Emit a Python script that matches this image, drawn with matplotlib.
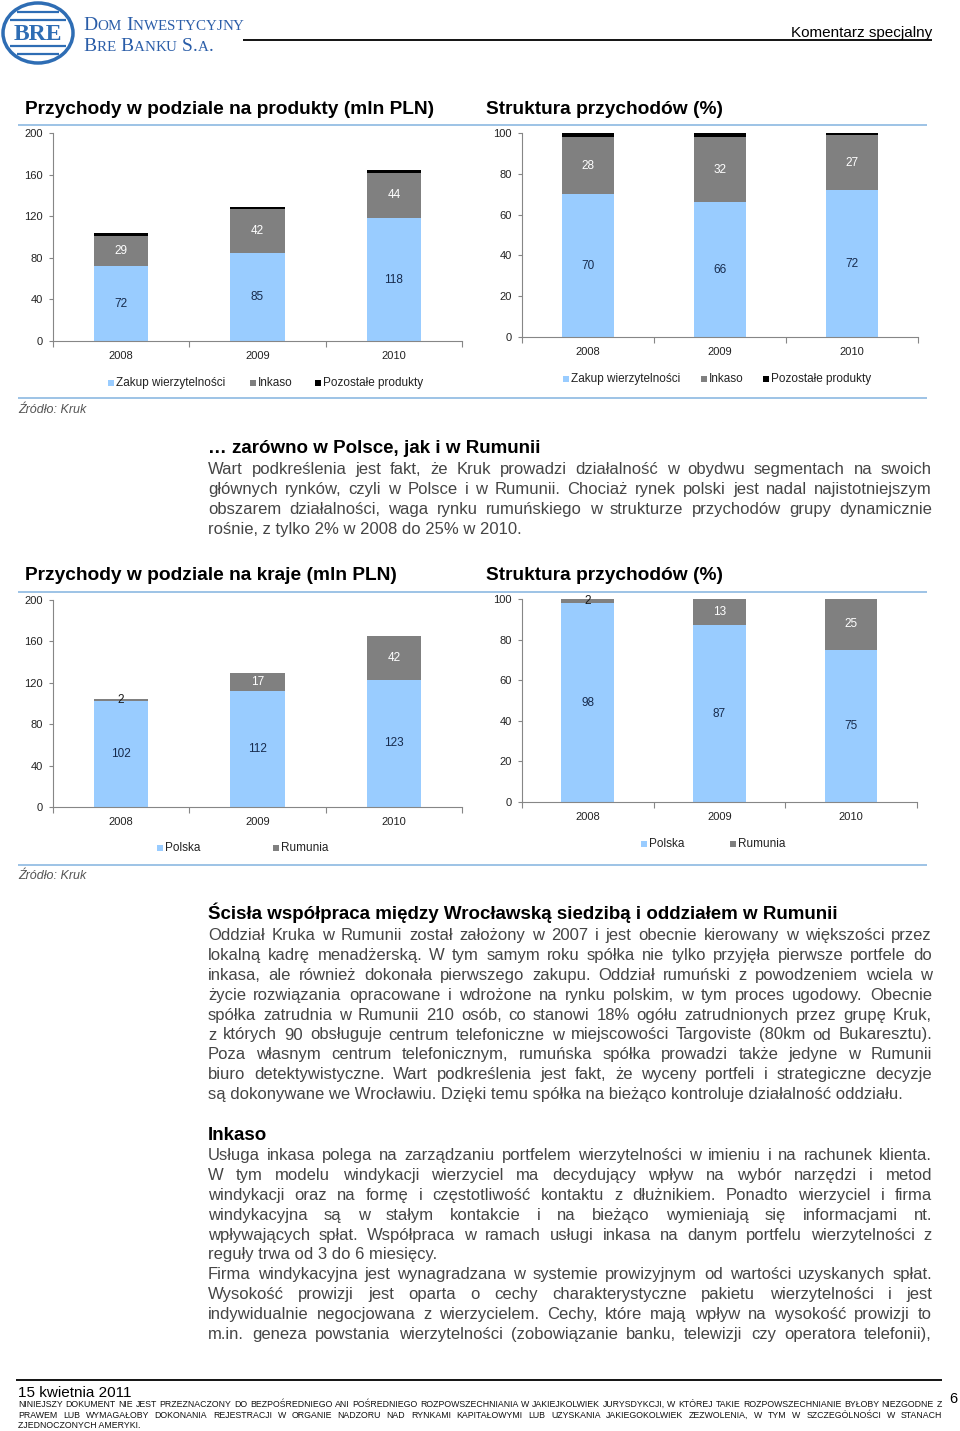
import numpy as np
import matplotlib as mpl
mpl.use('Agg')
import matplotlib.pyplot as plt
from matplotlib import font_manager as fm
from matplotlib.patches import Rectangle, Ellipse

W, H = 960, 1431

# ----------------------------------------------------------------------
# --- data

years = ['2008', '2009', '2010']

prod_labels = ['Zakup wierzytelności', 'Inkaso', 'Pozostałe produkty']
prod_zakup = [72, 85, 118]
prod_inkaso = [29, 42, 44]
prod_other = [3, 1.5, 2.5]

struct_zakup = [70, 66, 72]
struct_inkaso = [28, 32, 27]
struct_other = [2, 2, 1]

country_labels = ['Polska', 'Rumunia']
kraj_pl = [102, 112, 123]
kraj_ro = [2, 17, 42]

kraj_pl_pct = [98, 87, 75]
kraj_ro_pct = [2, 13, 25]

c_blue, c_gray, c_black = '#99CCFF', '#808080', '#000000'
c_line = '#9DC3E6'
c_axis = '#868686'
c_text = '#454545'

names = {f.name for f in fm.fontManager.ttflist}
NARROW = 'Liberation Sans Narrow' if 'Liberation Sans Narrow' in names else 'Liberation Sans'
SANS = 'Liberation Sans'
SERIF = 'Liberation Serif'

plt.rcParams['font.family'] = [SANS, 'DejaVu Sans']

fig = plt.figure(figsize=(W/100, H/100), dpi=100)
page = fig.add_axes([0, 0, 1, 1])
page.set_xlim(0, W)
page.set_ylim(H, 0)
page.axis('off')

renderer = fig.canvas.get_renderer()


def fp(family, size, weight='normal', style='normal'):
    return fm.FontProperties(family=[family, 'DejaVu Sans'], size=size, weight=weight, style=style)


def tw(s, prop):
    w, h, d = renderer.get_text_width_height_descent(s, prop, ismath=False)
    return w


def px_rect(x0, y0, x1, y1):
    return [x0/W, 1-y1/H, (x1-x0)/W, (y1-y0)/H]


def hline(y, x0, x1, color, lw):
    page.plot([x0, x1], [y, y], color=color, lw=lw, solid_capstyle='butt')


def put_line(s, y, x0, x1, prop, color, justify=True):
    if not justify:
        page.text(x0, y, s, fontproperties=prop, color=color, va='baseline', ha='left')
        return
    words = s.split(' ')
    widths = [tw(w, prop) for w in words]
    gap = (x1 - x0 - sum(widths)) / max(len(words)-1, 1)
    x = x0
    for w, wd in zip(words, widths):
        page.text(x, y, w, fontproperties=prop, color=color, va='baseline', ha='left')
        x += wd + gap


def paragraph(lines, y0, step, x0, x1, prop, color, left_last=(True,)):
    for i, s in enumerate(lines):
        put_line(s, y0 + i*step, x0, x1, prop, color, justify=(i not in left_last))


def small_caps(s, x, y, big, small, color):
    xx = x
    for word_i, word in enumerate(s.split(' ')):
        if word_i:
            xx += tw(' ', fp(SERIF, big))
        for j, ch in enumerate(word):
            if j == 0 or not ch.isalpha():
                prop = fp(SERIF, big)
                t = ch
            else:
                prop = fp(SERIF, small)
                t = ch.upper()
            page.text(xx, y, t, fontproperties=prop, color=color, va='baseline')
            xx += tw(t, prop)


def legend(items, y):
    for x, col, lab in items:
        page.add_patch(Rectangle((x, y-3), 6, 6, color=col, lw=0))
        page.text(x+8, y, lab, fontsize=8.5, color='#222222', va='center', ha='left')


def bar_chart(rect, series, colors, lab_colors, ymax, ystep):
    ax = fig.add_axes(px_rect(*rect))
    ax.set_facecolor('none')
    x = np.arange(len(years))
    bottom = np.zeros(len(years))
    for vals, col, lc in zip(series, colors, lab_colors):
        vals = np.asarray(vals, float)
        ax.bar(x, vals, 0.4, bottom=bottom, color=col, linewidth=0)
        if lc:
            for xi, b, v in zip(x, bottom, vals):
                c = lc if v >= 5 else '#1a1a1a'
                ax.text(xi, b + v/2, f'{v:g}', ha='center', va='center', color=c, fontsize=8.5)
        bottom += vals
    ax.set_xlim(-0.5, len(years)-0.5)
    ax.set_ylim(0, ymax)
    for s in ['top', 'right']:
        ax.spines[s].set_visible(False)
    for s in ['left', 'bottom']:
        ax.spines[s].set_color(c_axis)
        ax.spines[s].set_linewidth(0.8)
    ax.set_yticks(np.arange(0, ymax+1, ystep))
    ax.set_xticks(np.arange(-0.5, len(years)), [''] * (len(years)+1))
    ax.set_xticks(x, years, minor=True)
    ax.tick_params(axis='y', length=3, color=c_axis, labelsize=8, pad=4.5, labelcolor='#222222')
    ax.tick_params(axis='x', which='major', length=4, color=c_axis)
    ax.tick_params(axis='x', which='minor', length=0, labelsize=8, pad=7, labelcolor='#222222')
    return ax


# ----------------------------------------------------------------------
# --- header

page.add_patch(Ellipse((38, 33), 70, 60, fill=False, ec='#2E6DB4', lw=2.5))
for yy in [12, 20, 46, 54]:
    hw = 35*np.sqrt(max(0, 1-((yy-33)/30)**2)) - 4
    hline(yy, 38-hw, 38+hw, '#2E6DB4', 1.6)
page.text(38, 34, 'BRE', fontsize=17, weight='bold', color='#2E6DB4', ha='center', va='center',
          family=SERIF)
small_caps('DOM INWESTYCYJNY', 83, 30, 14, 10.8, '#2A5DA8')
small_caps('BRE BANKU S.A.', 83, 51, 14, 10.8, '#2A5DA8')

hline(40, 243, 932, 'black', 1.3)
page.text(932, 37, 'Komentarz specjalny', fontproperties=fp(NARROW, 11), ha='right', va='baseline')

# ----------------------------------------------------------------------
# --- charts: products

tprop = fp(SANS, 13.8, weight='bold')
page.text(25, 114, 'Przychody w podziale na produkty (mln PLN)', fontproperties=tprop, va='baseline')
page.text(486, 114, 'Struktura przychodów (%)', fontproperties=tprop, va='baseline')
hline(125, 18, 927, c_line, 1.4)
hline(398, 18, 927, c_line, 1.4)

bar_chart((53, 133, 462, 341), [prod_zakup, prod_inkaso, prod_other],
          [c_blue, c_gray, c_black], ['#172B4D', 'white', None], 200, 40)
bar_chart((522, 133, 918, 337), [struct_zakup, struct_inkaso, struct_other],
          [c_blue, c_gray, c_black], ['#172B4D', 'white', None], 100, 20)

legend([(108, c_blue, prod_labels[0]), (250, c_gray, prod_labels[1]), (315, c_black, prod_labels[2])], 383)
legend([(563, c_blue, prod_labels[0]), (701, c_gray, prod_labels[1]), (763, c_black, prod_labels[2])], 379)

page.text(18, 413, 'Źródło: Kruk', fontsize=9, style='italic', color='#555555', va='baseline')

# ----------------------------------------------------------------------
# --- text 1

bprop = fp(NARROW, 12)
hprop = fp(NARROW, 13.5, weight='bold')
X0, X1 = 208, 932

page.text(X0, 453, '… zarówno w Polsce, jak i w Rumunii', fontproperties=hprop, va='baseline')
paragraph([
    'Wart podkreślenia jest fakt, że Kruk prowadzi działalność w obydwu segmentach na swoich',
    'głównych rynków, czyli w Polsce i w Rumunii. Chociaż rynek polski jest nadal najistotniejszym',
    'obszarem działalności, waga rynku rumuńskiego w strukturze przychodów grupy dynamicznie',
    'rośnie, z tylko 2% w 2008 do 25% w 2010.',
], 474, 20, X0, X1, bprop, c_text, left_last=(3,))

# ----------------------------------------------------------------------
# --- charts: countries

page.text(25, 580, 'Przychody w podziale na kraje (mln PLN)', fontproperties=tprop, va='baseline')
page.text(486, 580, 'Struktura przychodów (%)', fontproperties=tprop, va='baseline')
hline(592, 18, 927, c_line, 1.4)
hline(865, 18, 927, c_line, 1.4)

bar_chart((53, 600, 462, 807), [kraj_pl, kraj_ro],
          [c_blue, c_gray], ['#172B4D', 'white'], 200, 40)
bar_chart((522, 599, 917, 802), [kraj_pl_pct, kraj_ro_pct],
          [c_blue, c_gray], ['#172B4D', 'white'], 100, 20)

legend([(157, c_blue, country_labels[0]), (273, c_gray, country_labels[1])], 848)
legend([(641, c_blue, country_labels[0]), (730, c_gray, country_labels[1])], 844)

page.text(18, 879, 'Źródło: Kruk', fontsize=9, style='italic', color='#555555', va='baseline')

# ----------------------------------------------------------------------
# --- text 2

page.text(X0, 919, 'Ścisła współpraca między Wrocławską siedzibą i oddziałem w Rumunii',
          fontproperties=hprop, va='baseline')
paragraph([
    'Oddział Kruka w Rumunii został założony w 2007 i jest obecnie kierowany w większości przez',
    'lokalną kadrę menadżerską. W tym samym roku spółka nie tylko przyjęła pierwsze portfele do',
    'inkasa, ale również dokonała pierwszego zakupu. Oddział rumuński z powodzeniem wciela w',
    'życie rozwiązania opracowane i wdrożone na rynku polskim, w tym proces ugodowy. Obecnie',
    'spółka zatrudnia w Rumunii 210 osób, co stanowi 18% ogółu zatrudnionych przez grupę Kruk,',
    'z których 90 obsługuje centrum telefoniczne w miejscowości Targoviste (80km od Bukaresztu).',
    'Poza własnym centrum telefonicznym, rumuńska spółka prowadzi także jedyne w Rumunii',
    'biuro detektywistyczne. Wart podkreślenia jest fakt, że wyceny portfeli i strategiczne decyzje',
    'są dokonywane we Wrocławiu. Dzięki temu spółka na bieżąco kontroluje działalność oddziału.',
], 940, 19.9, X0, X1, bprop, c_text, left_last=(8,))

page.text(X0, 1140, 'Inkaso', fontproperties=hprop, va='baseline')
paragraph([
    'Usługa inkasa polega na zarządzaniu portfelem wierzytelności w imieniu i na rachunek klienta.',
    'W tym modelu windykacji wierzyciel ma decydujący wpływ na wybór narzędzi i metod',
    'windykacji oraz na formę i częstotliwość kontaktu z dłużnikiem. Ponadto wierzyciel i firma',
    'windykacyjna są w stałym kontakcie i na bieżąco wymieniają się informacjami nt.',
    'wpływających spłat. Współpraca w ramach usługi inkasa na danym portfelu wierzytelności z',
    'reguły trwa od 3 do 6 miesięcy.',
    'Firma windykacyjna jest wynagradzana w systemie prowizyjnym od wartości uzyskanych spłat.',
    'Wysokość prowizji jest oparta o cechy charakterystyczne pakietu wierzytelności i jest',
    'indywidualnie negocjowana z wierzycielem. Cechy, które mają wpływ na wysokość prowizji to',
    'm.in. geneza powstania wierzytelności (zobowiązanie banku, telewizji czy operatora telefonii),',
], 1160, 19.9, X0, X1, bprop, c_text, left_last=(5,))

# ----------------------------------------------------------------------
# --- footer

hline(1380, 16, 942, 'black', 1.3)
page.text(18, 1397, '15 kwietnia 2011', fontproperties=fp(NARROW, 11), va='baseline')
page.text(953, 1403, '6', fontproperties=fp(NARROW, 10.5), va='baseline', ha='center')
dprop = fp(NARROW, 6.3)
paragraph([
    'NINIEJSZY DOKUMENT NIE JEST PRZEZNACZONY DO BEZPOŚREDNIEGO ANI POŚREDNIEGO ROZPOWSZECHNIANIA W JAKIEJKOLWIEK JURYSDYKCJI, W KTÓREJ TAKIE ROZPOWSZECHNIANIE BYŁOBY NIEZGODNE Z',
    'PRAWEM LUB WYMAGAŁOBY DOKONANIA REJESTRACJI W ORGANIE NADZORU NAD RYNKAMI KAPITAŁOWYMI LUB UZYSKANIA JAKIEGOKOLWIEK ZEZWOLENIA, W TYM W SZCZEGÓLNOŚCI W STANACH',
    'ZJEDNOCZONYCH AMERYKI.',
], 1407, 10.5, 18, 942, dprop, '#111111', left_last=(2,))

fig.savefig('out.png', dpi=100)
